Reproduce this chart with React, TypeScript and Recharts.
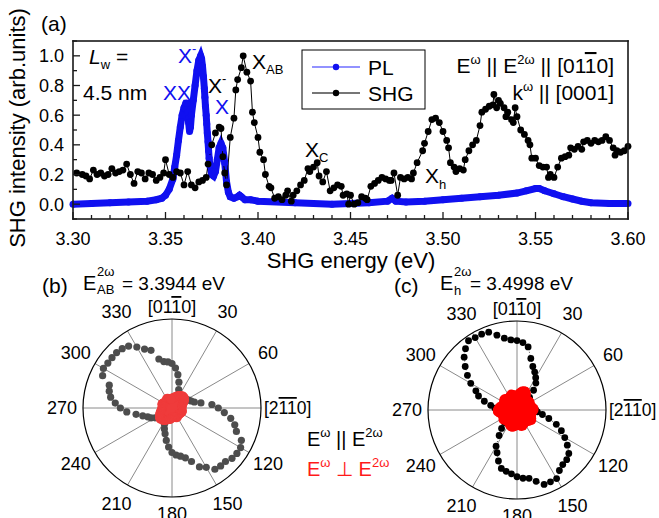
import React from "react";
import {
  LineChart,
  Line,
  XAxis,
  YAxis,
  RadarChart,
  Radar,
  PolarGrid,
  PolarAngleAxis,
  PolarRadiusAxis,
} from "recharts";

const FONT = "'Liberation Sans', Arial, Helvetica, sans-serif";

// ---- panel (a) ----
const energyTicks = [
  3.3, 3.31, 3.32, 3.33, 3.34, 3.35, 3.36, 3.37, 3.38, 3.39, 3.4, 3.41, 3.42, 3.43, 3.44, 3.45,
  3.46, 3.47, 3.48, 3.49, 3.5, 3.51, 3.52, 3.53, 3.54, 3.55, 3.56, 3.57, 3.58, 3.59, 3.6,
];
const intensityTicks = [-0.1, 0, 0.1, 0.2, 0.3, 0.4, 0.5, 0.6, 0.7, 0.8, 0.9, 1.0, 1.1];

// PL spectrum [energy eV, intensity]
const plPoints: [number, number][] = [
  [3.3, 0.0], [3.31, 0.005], [3.32, 0.01], [3.33, 0.015], [3.34, 0.02], [3.345, 0.03],
  [3.348, 0.04], [3.35, 0.06], [3.352, 0.1], [3.354, 0.17], [3.355, 0.25], [3.356, 0.33],
  [3.357, 0.43], [3.358, 0.52], [3.359, 0.6], [3.36, 0.65], [3.361, 0.68], [3.3615, 0.68],
  [3.362, 0.62], [3.3625, 0.55], [3.363, 0.49], [3.3635, 0.52], [3.364, 0.6], [3.365, 0.7],
  [3.366, 0.8], [3.367, 0.9], [3.368, 0.97], [3.369, 1.0], [3.3695, 0.98], [3.37, 0.93],
  [3.3705, 0.86], [3.371, 0.78], [3.3713, 0.72], [3.3716, 0.66], [3.372, 0.6], [3.3723, 0.54],
  [3.3726, 0.48], [3.373, 0.42], [3.3733, 0.36], [3.3736, 0.31], [3.374, 0.26], [3.375, 0.2],
  [3.376, 0.19], [3.377, 0.22], [3.378, 0.3], [3.379, 0.38], [3.38, 0.41], [3.381, 0.38],
  [3.382, 0.28], [3.383, 0.15], [3.384, 0.08], [3.385, 0.05], [3.387, 0.04], [3.389, 0.05],
  [3.39, 0.06], [3.391, 0.05], [3.393, 0.03], [3.396, 0.03], [3.4, 0.02], [3.42, 0.01],
  [3.44, 0.0], [3.46, 0.01], [3.47, 0.02], [3.4725, 0.04], [3.4745, 0.02], [3.48, 0.015],
  [3.49, 0.02], [3.5, 0.03], [3.51, 0.04], [3.52, 0.05], [3.53, 0.06], [3.54, 0.075],
  [3.545, 0.09], [3.55, 0.105], [3.552, 0.105], [3.555, 0.09], [3.56, 0.07], [3.565, 0.05],
  [3.57, 0.035], [3.575, 0.02], [3.58, 0.01], [3.59, 0.005], [3.6, 0.005],
];

// SHG spectrum [energy eV, intensity]
const shgPoints: [number, number][] = [
  [3.302, 0.21], [3.305, 0.2], [3.307, 0.19], [3.309, 0.17], [3.311, 0.23], [3.313, 0.2],
  [3.315, 0.21], [3.317, 0.19], [3.319, 0.2], [3.321, 0.24], [3.323, 0.21], [3.325, 0.22],
  [3.327, 0.23], [3.329, 0.27], [3.331, 0.2], [3.333, 0.14], [3.335, 0.22], [3.337, 0.21],
  [3.339, 0.17], [3.341, 0.21], [3.343, 0.2], [3.345, 0.16], [3.347, 0.18], [3.349, 0.21],
  [3.35, 0.3], [3.352, 0.2], [3.354, 0.18], [3.356, 0.22], [3.358, 0.21], [3.36, 0.13],
  [3.362, 0.22], [3.364, 0.13], [3.366, 0.11], [3.368, 0.15], [3.37, 0.16], [3.372, 0.18],
  [3.373, 0.27], [3.375, 0.4], [3.377, 0.48], [3.379, 0.52], [3.38, 0.51], [3.381, 0.32],
  [3.382, 0.21], [3.383, 0.13], [3.385, 0.45], [3.387, 0.58], [3.388, 0.77], [3.389, 0.84],
  [3.391, 0.92], [3.392, 1.0], [3.394, 0.89], [3.396, 0.83], [3.397, 0.62], [3.398, 0.55],
  [3.4, 0.45], [3.401, 0.35], [3.403, 0.3], [3.404, 0.2], [3.406, 0.12], [3.407, 0.11],
  [3.409, 0.04], [3.411, 0.05], [3.413, 0.03], [3.415, 0.06], [3.416, 0.09], [3.418, 0.02],
  [3.419, 0.06], [3.421, 0.09], [3.423, 0.13], [3.425, 0.16], [3.427, 0.24], [3.428, 0.22],
  [3.43, 0.25], [3.432, 0.28], [3.433, 0.19], [3.435, 0.15], [3.437, 0.22], [3.439, 0.09],
  [3.441, 0.11], [3.443, 0.13], [3.445, 0.12], [3.446, 0.06], [3.448, 0.07], [3.449, 0.0],
  [3.45, 0.06], [3.452, 0.0], [3.454, 0.01], [3.456, 0.05], [3.458, 0.04], [3.459, 0.03],
  [3.461, 0.12], [3.463, 0.14], [3.465, 0.16], [3.467, 0.18], [3.469, 0.17], [3.471, 0.16],
  [3.472, 0.16], [3.4735, 0.21], [3.4755, 0.06], [3.477, 0.18], [3.479, 0.17], [3.481, 0.18],
  [3.483, 0.17], [3.484, 0.21], [3.486, 0.28], [3.489, 0.36], [3.49, 0.41], [3.492, 0.49],
  [3.494, 0.57], [3.496, 0.58], [3.498, 0.55], [3.5, 0.49], [3.502, 0.43], [3.503, 0.38],
  [3.504, 0.28], [3.506, 0.25], [3.507, 0.22], [3.509, 0.24], [3.511, 0.23], [3.512, 0.3],
  [3.514, 0.36], [3.516, 0.4], [3.518, 0.43], [3.52, 0.53], [3.521, 0.62], [3.523, 0.64],
  [3.525, 0.66], [3.527, 0.67], [3.5275, 0.74], [3.529, 0.65], [3.53, 0.7], [3.531, 0.68],
  [3.533, 0.65], [3.534, 0.59], [3.535, 0.62], [3.537, 0.57], [3.538, 0.55], [3.539, 0.65],
  [3.54, 0.59], [3.542, 0.5], [3.544, 0.47], [3.546, 0.43], [3.547, 0.4], [3.548, 0.31],
  [3.55, 0.31], [3.552, 0.26], [3.554, 0.25], [3.556, 0.25], [3.557, 0.18], [3.558, 0.2],
  [3.56, 0.18], [3.562, 0.25], [3.564, 0.31], [3.566, 0.32], [3.568, 0.33], [3.569, 0.38],
  [3.571, 0.37], [3.573, 0.39], [3.575, 0.37], [3.576, 0.42], [3.578, 0.43], [3.58, 0.41],
  [3.582, 0.43], [3.584, 0.42], [3.586, 0.43], [3.588, 0.455], [3.59, 0.43], [3.592, 0.38],
  [3.593, 0.33], [3.594, 0.36], [3.596, 0.35], [3.598, 0.36], [3.6, 0.39],
];

// ---- panels (b), (c): polar SHG ----
const angles = [
  0, 5, 10, 15, 20, 25, 30, 35, 40, 45, 50, 55, 60, 65, 70, 75, 80, 85, 90, 95, 100, 105, 110,
  115, 120, 125, 130, 135, 140, 145, 150, 155, 160, 165, 170, 175, 180, 185, 190, 195, 200, 205,
  210, 215, 220, 225, 230, 235, 240, 245, 250, 255, 260, 265, 270, 275, 280, 285, 290, 295, 300,
  305, 310, 315, 320, 325, 330, 335, 340, 345, 350, 355,
];
const parallelB = [
  0.5, 0.45, 0.38, 0.3, 0.22, 0.17, 0.14, 0.12, 0.12, 0.13, 0.15, 0.17, 0.19, 0.21, 0.23, 0.26,
  0.33, 0.45, 0.52, 0.59, 0.67, 0.73, 0.77, 0.86, 0.89, 0.89, 0.88, 0.85, 0.85, 0.84, 0.77, 0.73,
  0.64, 0.58, 0.55, 0.53, 0.5, 0.44, 0.37, 0.3, 0.25, 0.2, 0.16, 0.13, 0.12, 0.13, 0.15, 0.18,
  0.22, 0.26, 0.29, 0.34, 0.41, 0.51, 0.58, 0.64, 0.7, 0.73, 0.75, 0.86, 0.89, 0.88, 0.88, 0.88,
  0.87, 0.85, 0.79, 0.73, 0.69, 0.57, 0.53, 0.52,
];
const perpendicularB = [
  0.11, 0.11, 0.12, 0.13, 0.14, 0.15, 0.16, 0.17, 0.18, 0.18, 0.18, 0.17, 0.16, 0.14, 0.13, 0.12,
  0.11, 0.11, 0.11, 0.11, 0.11, 0.12, 0.12, 0.12, 0.11, 0.11, 0.11, 0.1, 0.1, 0.11, 0.12, 0.12,
  0.11, 0.11, 0.1, 0.1, 0.11, 0.12, 0.13, 0.13, 0.14, 0.15, 0.16, 0.17, 0.17, 0.18, 0.18, 0.17,
  0.16, 0.15, 0.14, 0.13, 0.12, 0.11, 0.11, 0.11, 0.11, 0.11, 0.12, 0.12, 0.11, 0.11, 0.1, 0.1,
  0.1, 0.11, 0.12, 0.12, 0.11, 0.11, 0.1, 0.1,
];
const parallelC = [
  0.78, 0.76, 0.72, 0.6, 0.52, 0.47, 0.42, 0.37, 0.29, 0.2, 0.15, 0.13, 0.12, 0.12, 0.13, 0.14,
  0.16, 0.18, 0.21, 0.23, 0.29, 0.37, 0.47, 0.55, 0.62, 0.69, 0.76, 0.79, 0.8, 0.83, 0.89, 0.89,
  0.89, 0.83, 0.78, 0.77, 0.75, 0.72, 0.7, 0.68, 0.61, 0.53, 0.47, 0.35, 0.27, 0.2, 0.15, 0.13,
  0.12, 0.12, 0.13, 0.14, 0.16, 0.19, 0.22, 0.25, 0.3, 0.38, 0.46, 0.51, 0.6, 0.68, 0.76, 0.84,
  0.9, 0.95, 0.94, 0.94, 0.93, 0.87, 0.82, 0.79,
];
const perpendicularC = [
  0.16, 0.18, 0.2, 0.22, 0.23, 0.23, 0.21, 0.18, 0.16, 0.15, 0.16, 0.17, 0.17, 0.16, 0.15, 0.16,
  0.18, 0.19, 0.19, 0.18, 0.17, 0.16, 0.17, 0.18, 0.19, 0.2, 0.19, 0.18, 0.17, 0.16, 0.17, 0.18,
  0.19, 0.19, 0.18, 0.17, 0.17, 0.18, 0.19, 0.2, 0.2, 0.19, 0.18, 0.17, 0.16, 0.17, 0.18, 0.19,
  0.18, 0.17, 0.16, 0.18, 0.2, 0.22, 0.22, 0.21, 0.2, 0.18, 0.17, 0.16, 0.17, 0.18, 0.19, 0.18,
  0.17, 0.16, 0.17, 0.18, 0.19, 0.18, 0.17, 0.16,
];
const spokeAngles = [0, 30, 60, 90, 120, 150, 180, 210, 240, 270, 300, 330];

const plData = plPoints.map(([e, v]) => ({ e, v }));
const shgData = shgPoints.map(([e, v]) => ({ e, v }));
const polarB = angles.map((a, i) => ({ angle: a, par: parallelB[i], perp: perpendicularB[i] }));
const polarC = angles.map((a, i) => ({ angle: a, par: parallelC[i], perp: perpendicularC[i] }));

const R = 89;
const PLOT_TOP = 41;
const PLOT_BOTTOM = 219;
const PLOT_LEFT = 73;
const PLOT_RIGHT = 628;
const INK = "#1a1a1a";

// inward tick marks, labels only on bottom / left majors
function EnergyTick(props: any) {
  const { x, payload, side } = props;
  const v = Number(payload?.value);
  const major = Math.round(v * 100) % 5 === 0;
  const len = major ? 7 : 4;
  const xx = Number(x);
  return (
    <g>
      <path
        d={
          side === "bottom"
            ? `M${xx},${PLOT_BOTTOM} L${xx},${PLOT_BOTTOM - len}`
            : `M${xx},${PLOT_TOP} L${xx},${PLOT_TOP + len}`
        }
        stroke={INK}
        strokeWidth={1.3}
        fill="none"
      />
      {side === "bottom" && major && (
        <text x={xx} y={PLOT_BOTTOM + 26} textAnchor="middle" fontSize={18} fontFamily={FONT} fill="#000">
          {v.toFixed(2)}
        </text>
      )}
    </g>
  );
}

function IntensityTick(props: any) {
  const { y, payload, side } = props;
  const v = Number(payload?.value);
  const k = Math.round(v * 10);
  const major = k >= 0 && k <= 10 && k % 2 === 0;
  const len = major ? 7 : 4;
  const yy = Number(y);
  return (
    <g>
      <path
        d={
          side === "left"
            ? `M${PLOT_LEFT},${yy} L${PLOT_LEFT + len},${yy}`
            : `M${PLOT_RIGHT},${yy} L${PLOT_RIGHT - len},${yy}`
        }
        stroke={INK}
        strokeWidth={1.3}
        fill="none"
      />
      {side === "left" && major && (
        <text x={PLOT_LEFT - 9} y={yy + 6.5} textAnchor="end" fontSize={18} fontFamily={FONT} fill="#000">
          {v.toFixed(1)}
        </text>
      )}
    </g>
  );
}

function SpectrumChart() {
  return (
    <LineChart width={659} height={270} margin={{ top: 40, right: 30, bottom: 21, left: 0 }}>
      <XAxis
        dataKey="e"
        type="number"
        domain={[3.3, 3.6]}
        ticks={energyTicks}
        interval={0}
        height={30}
        tickSize={0}
        tickMargin={0}
        tickLine={false}
        axisLine={false}
        tick={<EnergyTick side="bottom" />}
      />
      <XAxis
        xAxisId="top"
        orientation="top"
        dataKey="e"
        type="number"
        domain={[3.3, 3.6]}
        ticks={energyTicks}
        interval={0}
        height={1}
        tickSize={0}
        tickMargin={0}
        tickLine={false}
        axisLine={false}
        tick={<EnergyTick side="top" />}
      />
      <YAxis
        type="number"
        domain={[-0.1, 1.1]}
        ticks={intensityTicks}
        interval={0}
        width={73}
        tickSize={0}
        tickMargin={0}
        tickLine={false}
        axisLine={false}
        tick={<IntensityTick side="left" />}
      />
      <YAxis
        yAxisId="right"
        orientation="right"
        type="number"
        domain={[-0.1, 1.1]}
        ticks={intensityTicks}
        interval={0}
        width={1}
        tickSize={0}
        tickMargin={0}
        tickLine={false}
        axisLine={false}
        tick={<IntensityTick side="right" />}
      />
      <Line
        data={plData}
        dataKey="v"
        type="linear"
        stroke="#1010f0"
        strokeWidth={7}
        dot={{ r: 3.5, fill: "#1010f0", stroke: "none" }}
        isAnimationActive={false}
      />
      <Line
        data={shgData}
        dataKey="v"
        type="linear"
        stroke="#000"
        strokeWidth={1}
        dot={{ r: 3.4, fill: "#000", stroke: "none" }}
        isAnimationActive={false}
      />
    </LineChart>
  );
}

function makeAngleTick(cx: number, cy: number) {
  return function AngleTick(props: any) {
    const a = Number(props.payload?.value);
    if (a % 30 !== 0) return <g />;
    const rad = (a * Math.PI) / 180;
    let x = 0;
    let y = 0;
    let anchor: "start" | "middle" | "end" = "middle";
    if (a === 90) {
      x = cx + R + 3;
      y = cy + 6;
      anchor = "start";
    } else if (a === 270) {
      x = cx - R - 6;
      y = cy + 6;
      anchor = "end";
    } else {
      const rr = a === 0 ? 101 : a === 180 ? 106 : 111;
      x = cx + Math.sin(rad) * rr;
      y = cy - Math.cos(rad) * rr + 6;
    }
    let content: React.ReactNode = String(a);
    if (a === 0)
      content = (
        <>
          [01<tspan style={{ textDecoration: "overline" }}>1</tspan>0]
        </>
      );
    if (a === 90)
      content = (
        <>
          [2<tspan style={{ textDecoration: "overline" }}>11</tspan>0]
        </>
      );
    return (
      <text x={x} y={y} textAnchor={anchor} fontSize={a === 90 ? 17.5 : 18} fontFamily={FONT} fill="#000">
        {content}
      </text>
    );
  };
}

// each radar series is drawn as dots at the points the radar computed
function dotShape(color: string, r: number, traced: boolean, filled: boolean) {
  return function DotRing(props: any) {
    const pts: any[] = props.points || [];
    const path = pts.map((p, i) => `${i === 0 ? "M" : "L"}${p.x},${p.y}`).join(" ") + " Z";
    return (
      <g>
        {traced && <path d={path} fill="none" stroke="#000" strokeWidth={0.7} strokeDasharray="1 2" />}
        {filled && <path d={path} fill={color} stroke={color} strokeWidth={2} />}
        {pts.map((p, i) => (
          <circle key={i} cx={p.x} cy={p.y} r={r} fill={color} />
        ))}
      </g>
    );
  };
}

type PolarProps = {
  data: any[];
  cx: number;
  cy: number;
  parColor: string;
  perpColor: string;
  parR: number;
  traced?: boolean;
};

function PolarPanel({ data, cx, cy, parColor, perpColor, parR, traced }: PolarProps) {
  return (
    <RadarChart
      width={330}
      height={258}
      data={data}
      cx={cx}
      cy={cy}
      outerRadius={R}
      margin={{ top: 0, right: 0, bottom: 0, left: 0 }}
    >
      <PolarGrid gridType="circle" polarAngles={spokeAngles} polarRadius={[]} stroke="#8a8a8a" strokeWidth={1} />
      <PolarGrid gridType="circle" radialLines={false} polarAngles={spokeAngles} polarRadius={[R]} stroke="#000" strokeWidth={1.2} />
      <PolarAngleAxis dataKey="angle" tick={makeAngleTick(cx, cy)} tickLine={false} axisLine={false} />
      <PolarRadiusAxis domain={[0, 1]} tick={false} axisLine={false} />
      <Radar
        dataKey="par"
        stroke="none"
        fill="none"
        shape={dotShape(parColor, parR, !!traced, false)}
        isAnimationActive={false}
      />
      <Radar
        dataKey="perp"
        stroke="none"
        fill="none"
        shape={dotShape(perpColor, 4.6, false, true)}
        isAnimationActive={false}
      />
    </RadarChart>
  );
}

function Annotations() {
  const t = { fontFamily: FONT, fill: "#000" };
  const blue = "#1010f0";
  return (
    <svg width={659} height={518} style={{ position: "absolute", left: 0, top: 0, pointerEvents: "none" }}>
      {/* plot frame of panel (a) */}
      <g fill={INK}>
        <rect x={PLOT_LEFT - 0.8} y={PLOT_TOP - 0.8} width={PLOT_RIGHT - PLOT_LEFT + 1.6} height={1.6} />
        <rect x={PLOT_LEFT - 0.8} y={PLOT_BOTTOM - 0.8} width={PLOT_RIGHT - PLOT_LEFT + 1.6} height={1.6} />
        <rect x={PLOT_LEFT - 0.8} y={PLOT_TOP - 0.8} width={1.6} height={PLOT_BOTTOM - PLOT_TOP + 1.6} />
        <rect x={PLOT_RIGHT - 0.8} y={PLOT_TOP - 0.8} width={1.6} height={PLOT_BOTTOM - PLOT_TOP + 1.6} />
      </g>
      <g {...t}>
        {/* panel (a) */}
        <text x={41} y={31} fontSize={21}>(a)</text>
        <text x={25} y={128} fontSize={22} textAnchor="middle" transform="rotate(-90 25 128)">
          SHG intensity (arb.units)
        </text>
        <text x={351} y={268} fontSize={22} textAnchor="middle">SHG energy (eV)</text>

        <text x={89} y={64} fontSize={21}>
          <tspan fontStyle="italic">L</tspan>
          <tspan fontSize={13} dy={5}>w</tspan>
          <tspan dy={-5}> =</tspan>
        </text>
        <text x={83} y={100} fontSize={21}>4.5 nm</text>

        <text x={178} y={63} fontSize={21} fill={blue}>
          X<tspan fontSize={13} dy={-10}>-</tspan>
        </text>
        <text x={163} y={100} fontSize={21} fill={blue}>XX</text>
        <text x={215} y={114} fontSize={21} fill={blue}>X</text>
        <text x={208} y={93} fontSize={21}>
          X<tspan fontSize={13} dy={-10}>-</tspan>
        </text>
        <text x={252} y={69} fontSize={21}>
          X<tspan fontSize={13} dy={5}>AB</tspan>
        </text>
        <text x={305} y={157} fontSize={21}>
          X<tspan fontSize={13} dy={5}>C</tspan>
        </text>
        <text x={425} y={183} fontSize={21}>
          X<tspan fontSize={13} dy={6}>h</tspan>
        </text>

        <text x={614} y={73} fontSize={21} textAnchor="end">
          E<tspan fontSize={13} dy={-9}>ω</tspan>
          <tspan dy={9}> || E</tspan>
          <tspan fontSize={13} dy={-9}>2ω</tspan>
          <tspan dy={9}> || [01</tspan>
          <tspan style={{ textDecoration: "overline" }}>1</tspan>
          <tspan>0]</tspan>
        </text>
        <text x={614} y={100} fontSize={21} textAnchor="end">
          k<tspan fontSize={13} dy={-9}>ω</tspan>
          <tspan dy={9}> || [0001]</tspan>
        </text>

        {/* legend (a) */}
        <rect x={302} y={50} width={123} height={59} fill="#fff" stroke="#000" strokeWidth={1} />
        <rect x={312} y={66.2} width={48} height={1.6} fill="#7878ff" />
        <circle cx={336} cy={67} r={3.2} fill={blue} />
        <text x={368} y={75} fontSize={21}>PL</text>
        <rect x={312} y={92.2} width={48} height={1.6} fill="#555" />
        <circle cx={336} cy={93} r={3.2} fill="#000" />
        <text x={368} y={101} fontSize={21}>SHG</text>

        {/* panel (b) title */}
        <text x={42} y={293} fontSize={21}>(b)</text>
        <text x={83} y={290} fontSize={20}>E</text>
        <text x={97} y={276} fontSize={13}>2ω</text>
        <text x={97} y={294} fontSize={13}>AB</text>
        <text x={122} y={290} fontSize={19}>= 3.3944 eV</text>

        {/* panel (c) title */}
        <text x={394} y={293} fontSize={21}>(c)</text>
        <text x={440} y={290} fontSize={20}>E</text>
        <text x={454} y={276} fontSize={13}>2ω</text>
        <text x={454} y={295} fontSize={13}>h</text>
        <text x={470} y={290} fontSize={19}>= 3.4998 eV</text>

        {/* polar legend */}
        <text x={307} y={446} fontSize={20}>
          E<tspan fontSize={13} dy={-9}>ω</tspan>
          <tspan dy={9}> || E</tspan>
          <tspan fontSize={13} dy={-9}>2ω</tspan>
        </text>
        <text x={307} y={476} fontSize={20} fill="#ff1a1a">
          E<tspan fontSize={13} dy={-9}>ω</tspan>
          <tspan dy={9}> ⊥ E</tspan>
          <tspan fontSize={13} dy={-9}>2ω</tspan>
        </text>
      </g>
    </svg>
  );
}

export default function App() {
  return (
    <div style={{ position: "absolute", left: 0, top: 0, width: 659, height: 518, background: "#fff", overflow: "hidden" }}>
      <div style={{ position: "absolute", left: 0, top: 0 }}>
        <SpectrumChart />
      </div>
      <div style={{ position: "absolute", left: 0, top: 260 }}>
        <PolarPanel data={polarB} cx={172} cy={148} parColor="#4d4d4d" perpColor="#ef3b3b" parR={3.6} />
      </div>
      <div style={{ position: "absolute", left: 329, top: 260 }}>
        <PolarPanel data={polarC} cx={188} cy={150} parColor="#000" perpColor="#ff0000" parR={3.4} traced />
      </div>
      <Annotations />
    </div>
  );
}
